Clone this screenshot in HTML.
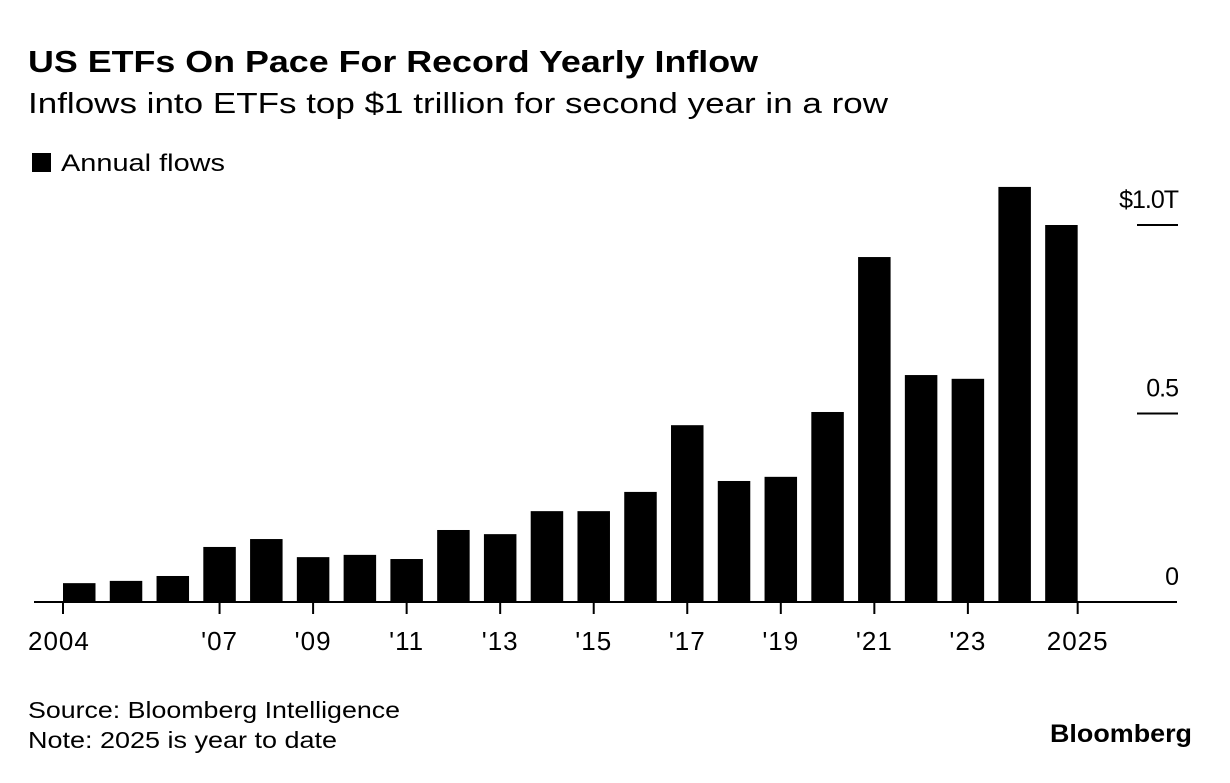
<!DOCTYPE html>
<html><head><meta charset="utf-8"><style>
body{margin:0;background:#fff;width:1230px;height:778px;overflow:hidden;font-family:"Liberation Sans",Arial,sans-serif;color:#000}
</style></head><body>
<svg width="1230" height="778">
<text x="28" y="72" font-size="31" font-weight="bold" textLength="730" lengthAdjust="spacingAndGlyphs">US ETFs On Pace For Record Yearly Inflow</text>
<text x="28" y="113" font-size="29" textLength="860" lengthAdjust="spacingAndGlyphs">Inflows into ETFs top $1 trillion for second year in a row</text>
<rect x="32" y="153" width="19" height="19" fill="#000"/>
<text x="61" y="171" font-size="24" textLength="164" lengthAdjust="spacingAndGlyphs">Annual flows</text>
<g id="plot"></g>
<text x="28" y="718" font-size="23" textLength="372" lengthAdjust="spacingAndGlyphs">Source: Bloomberg Intelligence</text>
<text x="28" y="748" font-size="23" textLength="309" lengthAdjust="spacingAndGlyphs">Note: 2025 is year to date</text>
<text x="1050" y="742" font-size="25" font-weight="bold" textLength="142" lengthAdjust="spacingAndGlyphs">Bloomberg</text>
</svg>
<script>
const years=[2004,2005,2006,2007,2008,2009,2010,2011,2012,2013,2014,2015,2016,2017,2018,2019,2020,2021,2022,2023,2024,2025];
const flows=[0.05,0.056,0.069,0.146,0.167,0.119,0.125,0.114,0.191,0.180,0.241,0.241,0.292,0.469,0.321,0.332,0.504,0.915,0.602,0.592,1.101,1.0];
const tickYears=[2004,2007,2009,2011,2013,2015,2017,2019,2021,2023,2025];
const tickLabels=["2004","'07","'09","'11","'13","'15","'17","'19","'21","'23","2025"];
const yTicks=[0,0.5,1.0];
const yTickLabels=["0","0.5","$1.0T"];
const NS="http://www.w3.org/2000/svg";
const g=document.getElementById('plot');
const x0=63,step=46.77,bw=32.5,base=602,ppu=377;
const xs=y=>x0+(y-years[0])*step;
const ys=v=>base-v*ppu;
function mk(t,a){const e=document.createElementNS(NS,t);for(const k in a)e.setAttribute(k,a[k]);g.appendChild(e);return e;}
years.forEach((yr,i)=>{
 const h=flows[i]*ppu;
 const r=mk('rect',{x:xs(yr),y:Math.min(ys(flows[i]),base),width:bw,height:Math.abs(h),fill:'#000'});
 
 
});
const ax=mk('line',{x1:34,x2:1177,y1:base,y2:base,stroke:'#000','stroke-width':2});


tickYears.forEach((yr,i)=>{
 let tx=xs(yr)+bw/2;
 if(i===0)tx=xs(yr);
 if(i===tickYears.length-1)tx=xs(yr)+bw;
 const l=mk('line',{x1:tx,x2:tx,y1:base,y2:base+12,stroke:'#000','stroke-width':2});
 
 
 const t=mk('text',{x:tx,y:650,'font-size':26,'text-anchor':i===0?'start':'middle','letter-spacing':1});
 if(i===0)t.setAttribute('x',tx-35);
 t.textContent=tickLabels[i];
 
 
});
yTicks.forEach((v,i)=>{
 if(v!==0){
  const l=mk('line',{x1:1137,x2:1178,y1:ys(v),y2:ys(v),stroke:'#000','stroke-width':2});
  
  
 }
 const t=mk('text',{x:1178,y:ys(v)-17,'font-size':25,'text-anchor':'end','letter-spacing':-1});
 t.textContent=yTickLabels[i];
 
 
});
</script>
</body></html>
